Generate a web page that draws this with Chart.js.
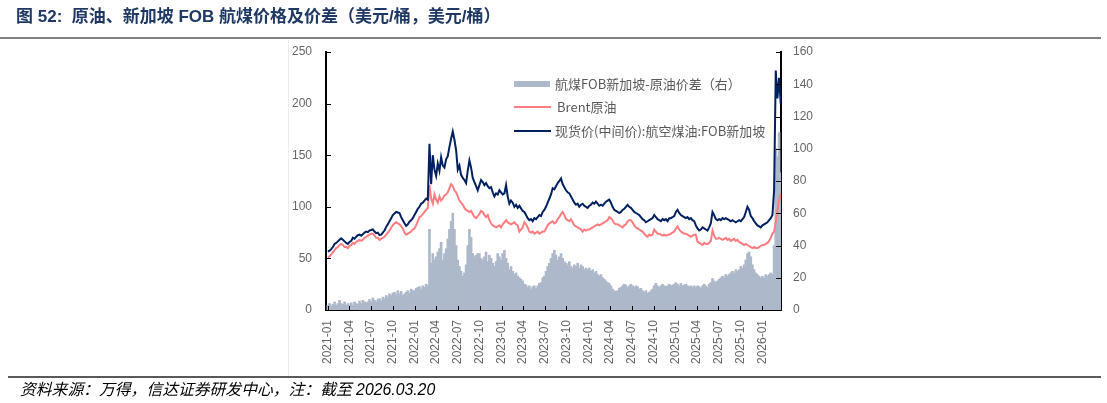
<!DOCTYPE html>
<html><head><meta charset="utf-8">
<script src="https://cdn.jsdelivr.net/npm/chart.js@4.4.1/dist/chart.umd.min.js"></script>
<style>
html,body{margin:0;padding:0;background:#fff;}
body{width:1107px;height:403px;position:relative;overflow:hidden;font-family:"Noto Sans CJK SC","Noto Sans",sans-serif;}
#c{position:absolute;left:0;top:0;}
.abs{position:absolute;white-space:nowrap;}
.lg{font-size:13px;line-height:18px;color:#595959;font-family:"Noto Sans CJK SC",sans-serif;}
</style></head><body>
<canvas id="c" width="1107" height="403"></canvas>
<div class="abs" style="left:16px;top:6px;font-size:17px;line-height:21px;font-weight:bold;color:#1f3864;font-family:'Liberation Sans','Noto Sans CJK SC',sans-serif;">图 52:&nbsp; 原油、新加坡 FOB 航煤价格及价差（美元/桶，美元/桶）</div>
<div class="abs" style="left:0;top:37px;width:1101px;height:2px;background:#7f7f7f;"></div>
<div class="abs" style="left:288px;top:40px;width:1px;height:336px;background:#ececec;"></div>
<div class="abs" style="left:8px;top:376px;width:1093px;height:2px;background:#595959;"></div>
<div class="abs" style="left:20px;top:380px;font-size:15.8px;line-height:20px;font-style:italic;color:#000;font-family:'Liberation Sans','Noto Sans CJK SC',sans-serif;">资料来源：万得，信达证券研发中心，注：截至 2026.03.20</div>

<div class="abs" style="left:514px;top:81px;width:36px;height:6px;background:#adb9ca;"></div>
<div class="abs lg" style="left:555px;top:75px;">航煤FOB新加坡-原油价差（右）</div>
<div class="abs" style="left:514px;top:106px;width:37px;height:2px;background:#ff7c80;"></div>
<div class="abs lg" style="left:557px;top:98px;">Brent原油</div>
<div class="abs" style="left:514px;top:130px;width:37px;height:2px;background:#002060;"></div>
<div class="abs lg" style="left:555px;top:122px;">现货价(中间价):航空煤油:FOB新加坡</div>

<script>
// Weekly sample dates (Fridays) starting here
const firstWeek = '2021-01-01';
const weekCount = 273;

// Quarter tick labels on the x axis
const tickLabels = ['2021-01','2021-04','2021-07','2021-10','2022-01','2022-04','2022-07','2022-10',
  '2023-01','2023-04','2023-07','2023-10','2024-01','2024-04','2024-07','2024-10',
  '2025-01','2025-04','2025-07','2025-10','2026-01'];

// 现货价(中间价):航空煤油:FOB新加坡 (USD/bbl), weekly
const jetFob = [
  56.5,57.5,59,61,64,65,66.5,68,69.5,68,66.5,65,64,
  66,67,70,69,71,72.5,73,72,73.5,75,76,75.5,77,
  77.5,78,76,74.5,75,72.5,73,75,77,80.5,83,86,89,
  92,93.5,95,94.5,94,90,87,84,81.5,83,85.5,87,89,
  92,95,98,100,103,104,106,108,107,161,122,150,136,
  130,142,135,148,140,138,146,149,158,166,173,165,155,
  136,140,131,128,126,123,135,145,138,128,124,120,116,
  121,126,124,121,123,120,118,119,114,110,113,112,116,
  114,112,113,121,110,103,106,104,100,102,99,101,98.5,
  96,95,92,89,87,88,86,89,88,90,92,91,95,
  97,100,104,108,112,118,117,120,123,125,127.5,122,119,
  116,114,113,110,107,104,102,103,100,102,103,101,100,
  99,101,102,104,103,105,103,101,102,101,103,105,106,
  107,104,100,97,96,95,94,95,97,98,100,102,100,
  99,97,95,94,93,92,90,88,87,85,86,87,88,
  89,92,90,88,87,86,88,87,88,86,89,89,90,
  91,95,97,94,92,91,90,89,90,88,89,87,86,
  82,79,77,78,80,79,78,77,80,84,95,92,88,
  87,88,87,89,88,89,88,87,86,87,86,85,86,
  87,86,88,90,95,100,97,91,89,86,84,82,81,
  80,82,83,84,85,87,89,92,116,232,205,225,200
];

// Brent原油 (USD/bbl), weekly
const brent = [
  51,52,54,56,58,60,61,63,64,63,61,61,60,
  62,63,65,64,66,67,68,67,68,70,71,72,73,
  74,74,72,70,70,68,69,70,71,73,75,77,80,
  82,84,85,84,83,81,79,75,73,74,75,76,78,
  79,82,86,90,91,93,95,97,99,121,108,103,112,
  107,104,110,106,108,111,112,114,118,122,120,116,114,
  110,106,104,102,99,97,96,95,96,93,90,89,91,
  93,96,95,92,90,92,87,84,82,81,80,81,82,
  80,83,85,87,85,84,83,84,85,83,82,76,78,
  80,85,83,80,76,75,76,74,75,76,74,75,76,
  76,79,82,84,85,86,84,85,88,90,93,95,92,
  88,87,86,88,85,82,81,80,79,78,76,78,77,
  78,78,79,80,81,82,83,82,83,84,85,86,87,
  90,89,87,84,83,83,82,81,80,82,83,86,87,
  87,85,82,80,79,78,77,76,74,72,71,73,72,
  73,78,76,74,74,73,72,73,72,73,73,74,75,
  76,79,81,78,76,75,74,74,73,72,71,72,73,
  73,66,65,64,63,65,64,64,65,67,77,72,69,
  69,70,69,68,69,70,68,69,67,68,69,67,68,
  66,65,64,63,64,63,62,61,60,61,60,60,61,
  62,63,63,64,65,67,70,74,76,85,97,106,113
];

// 航煤FOB新加坡-原油价差（右）(USD/bbl), weekly
const spread = [
  3,4,2.5,3.5,5,3,4,6,4,3.5,5,3,4,
  3,4.5,3,5,4,3.5,5.5,4,6,5,4.5,5,6.5,
  5,7.5,6,5,6.5,7,5.5,8,7,9,8,10,9,
  10.5,11,9.5,12,10,11.5,9,10,11,12,10.5,13,12,
  12,13.5,14,14.5,13,15,14,16,15,50,29,35,31,
  33,36,38,42,31,35,38,44,50,55,60,50,40,
  31,27,24,21,23,28,40,50,45,35,33,34,35,
  35,32,31,33,36,30,34,32,29,27,30,35,33,
  31,35,37,32,29,25,27,24,22,23,21,20,19,
  18,16,15.5,14,15,13,14.5,15,13.5,15,16.5,17,20,
  21,24,27,29,32,35,37,34,31,33,35,32,30,
  29,28,30,27,26,28,27,29,26,28,27,25,26,
  25,26,24,25,23,24,22,21,22,20,19,18,17,
  16.5,15,13,12,11.5,12,13.5,14,15,16,15.5,14,15,
  16,15,14,15,14.5,13,13.5,12,11,12,10.5,11,12,
  13,15,16.5,15,14,15,16,15,14.5,15,16,15,15.5,
  16,17,16,15,16.5,15,15.5,16,15,14.5,15,14,15,
  14,15,14.5,13.5,15,16,15,14,16,17,19.5,18,17,
  18,19,20,21,20,22,21,22,23,24,23,25,24,
  25,27,26,28,31,35,36,33,28,25,23,22,21,
  20,21,20,22,21,22,23,22,40,100,95,110,85
];

const DAY = 86400000;
const origin = Date.UTC(2021, 0, 1);
function dayOf(s) { const p = s.split('-').map(Number); return (Date.UTC(p[0], p[1] - 1, p[2] || 1) - origin) / DAY; }
const startDay = dayOf(firstWeek);
const weekDays = [];
for (let i = 0; i < weekCount; i++) weekDays.push(startDay + 7 * i);
const tickDays = tickLabels.map(l => dayOf(l + '-01'));

const pts = arr => arr.map((v, i) => ({ x: weekDays[i], y: v }));

const insideTicks = {
  id: 'insideTicks',
  afterDraw(chart) {
    const { ctx, chartArea: a, scales } = chart;
    ctx.save();
    ctx.strokeStyle = '#000';
    ctx.lineWidth = 1;
    ctx.beginPath();
    scales.y.ticks.forEach(t => { const p = Math.round(scales.y.getPixelForValue(t.value)) + 0.5; ctx.moveTo(a.left, p); ctx.lineTo(a.left + 5, p); });
    scales.y1.ticks.forEach(t => { const p = Math.round(scales.y1.getPixelForValue(t.value)) + 0.5; ctx.moveTo(a.right - 5, p); ctx.lineTo(a.right, p); });
    scales.x.ticks.forEach(t => { const p = Math.round(scales.x.getPixelForValue(t.value)) + 0.5; ctx.moveTo(p, a.bottom); ctx.lineTo(p, a.bottom - 4); });
    ctx.stroke();
    ctx.restore();
  }
};

Chart.defaults.font.family = "'Liberation Sans', Arial, sans-serif";
Chart.defaults.font.size = 12;
Chart.defaults.color = '#666';

new Chart(document.getElementById('c'), {
  type: 'bar',
  data: {
    datasets: [
      { type: 'line', label: '现货价(中间价):航空煤油:FOB新加坡', data: pts(jetFob), yAxisID: 'y', xAxisID: 'x',
        borderColor: '#002060', borderWidth: 2, pointRadius: 0, tension: 0, order: 0 },
      { type: 'line', label: 'Brent原油', data: pts(brent), yAxisID: 'y', xAxisID: 'x',
        borderColor: '#ff7c80', borderWidth: 2, pointRadius: 0, tension: 0, order: 1 },
      { type: 'bar', label: '航煤FOB新加坡-原油价差（右）', data: pts(spread), yAxisID: 'y1', xAxisID: 'x',
        backgroundColor: '#adb9ca', borderWidth: 0, barThickness: 2, grouped: false, order: 2 }
    ]
  },
  options: {
    responsive: false,
    animation: false,
    layout: { padding: { top: 52, left: 280, right: 286, bottom: 33 } },
    plugins: { legend: { display: false }, tooltip: { enabled: false } },
    scales: {
      x: {
        type: 'linear', offset: false, min: -8, max: 1905,
        grid: { display: false, drawTicks: false },
        border: { display: true, color: '#000', width: 2 },
        afterBuildTicks: s => { s.ticks = tickDays.map(v => ({ value: v })); },
        afterFit: s => { s.height = 60; },
        ticks: { autoSkip: false, minRotation: 90, maxRotation: 90, padding: 10, color: '#666',
          callback: (v, i) => tickLabels[i] }
      },
      y: {
        position: 'left', min: 0, max: 250,
        grid: { display: false, drawTicks: false },
        border: { display: true, color: '#000', width: 2 },
        afterFit: s => { s.width = 46; },
        ticks: { stepSize: 50, padding: 14, color: '#666' }
      },
      y1: {
        position: 'right', min: 0, max: 160,
        grid: { display: false, drawTicks: false },
        border: { display: true, color: '#000', width: 2 },
        afterFit: s => { s.width = 40; },
        ticks: { stepSize: 20, padding: 12, color: '#666' }
      }
    }
  },
  plugins: [insideTicks]
});
</script>
</body></html>
